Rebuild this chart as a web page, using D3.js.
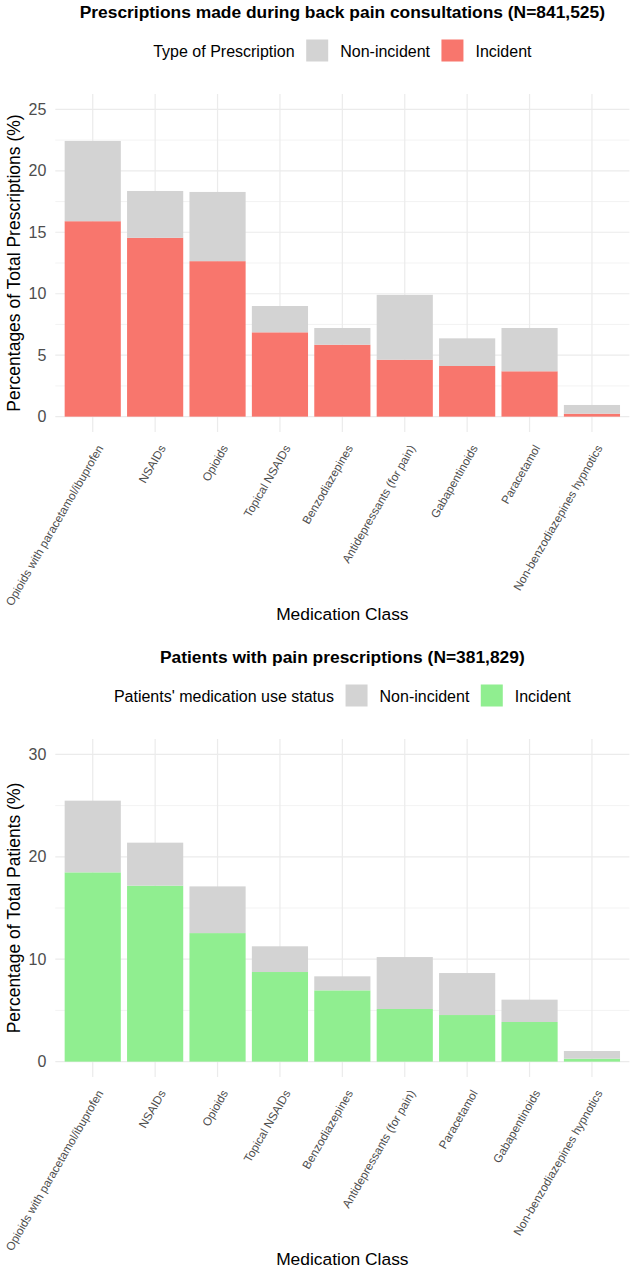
<!DOCTYPE html>
<html><head><meta charset="utf-8">
<script src="https://cdn.jsdelivr.net/npm/d3@7"></script>
<style>
body{margin:0;background:#fff}
svg{display:block}
text{font-family:"Liberation Sans",Arial,Helvetica,sans-serif}
</style>
</head><body>
<svg id="c" width="631" height="1270"></svg>
<script>
// ---- Data: chart 1 (prescriptions) ----
const categories1 = ["Opioids with paracetamol/ibuprofen","NSAIDs","Opioids","Topical NSAIDs","Benzodiazepines","Antidepressants (for pain)","Gabapentinoids","Paracetamol","Non-benzodiazepines hypnotics"];
const incident1 = [15.9, 14.55, 12.65, 6.86, 5.85, 4.63, 4.12, 3.69, 0.24];
const nonIncident1 = [6.53, 3.81, 5.63, 2.14, 1.36, 5.28, 2.25, 3.52, 0.71];
const yTicks1 = [0, 5, 10, 15, 20, 25];

// ---- Data: chart 2 (patients) ----
const categories2 = ["Opioids with paracetamol/ibuprofen","NSAIDs","Opioids","Topical NSAIDs","Benzodiazepines","Antidepressants (for pain)","Paracetamol","Gabapentinoids","Non-benzodiazepines hypnotics"];
const incident2 = [18.48, 17.18, 12.55, 8.75, 6.96, 5.14, 4.55, 3.87, 0.29];
const nonIncident2 = [7.0, 4.2, 4.56, 2.51, 1.37, 5.07, 4.1, 2.18, 0.75];
const yTicks2 = [0, 10, 20, 30];

const seriesKeys = ["Incident", "Non-incident"];

const svg = d3.select("#c");

function drawChart(o) {
  const oy = o.oy;
  const top = oy + 94, bottom = oy + 432, left = 55.3, right = 629.4;
  const cx = (left + right) / 2;
  const x = d3.scaleBand().domain(o.categories).range([left, right]).paddingInner(0.1).paddingOuter(0.15);
  const yMax = d3.max(o.ticks);
  const pad = yMax * 0.05;
  const y = d3.scaleLinear().domain([-pad, yMax + pad]).range([bottom, top]);
  const g = svg.append("g");

  // minor grid
  const minor = o.ticks.slice(0, -1).map((t, i) => (t + o.ticks[i + 1]) / 2);
  g.selectAll(".minor").data(minor).join("line")
    .attr("x1", left).attr("x2", right)
    .attr("y1", d => y(d)).attr("y2", d => y(d))
    .attr("stroke", "#EBEBEB").attr("stroke-width", 0.6);
  // major grid
  g.selectAll(".major").data(o.ticks).join("line")
    .attr("x1", left).attr("x2", right)
    .attr("y1", d => y(d)).attr("y2", d => y(d))
    .attr("stroke", "#EBEBEB").attr("stroke-width", 1.2);
  g.selectAll(".vgrid").data(o.categories).join("line")
    .attr("x1", d => x(d) + x.bandwidth() / 2).attr("x2", d => x(d) + x.bandwidth() / 2)
    .attr("y1", top).attr("y2", bottom)
    .attr("stroke", "#EBEBEB").attr("stroke-width", 1.2);

  // stacked bars
  const rows = o.categories.map((c, i) => ({cat: c, "Incident": o.incident[i], "Non-incident": o.nonIncident[i]}));
  const stacked = d3.stack().keys(seriesKeys)(rows);
  const color = {"Incident": o.incColor, "Non-incident": "#D3D3D3"};
  g.selectAll(".layer").data(stacked).join("g")
    .attr("fill", d => color[d.key])
    .selectAll("rect").data(d => d).join("rect")
    .attr("x", d => x(d.data.cat))
    .attr("width", x.bandwidth())
    .attr("y", d => y(d[1]))
    .attr("height", d => y(d[0]) - y(d[1]));

  // y axis
  const ya = g.append("g").attr("transform", `translate(${left},0)`)
    .call(d3.axisLeft(y).tickValues(o.ticks).tickSize(0).tickPadding(9));
  ya.select(".domain").remove();
  ya.selectAll("text").attr("font-size", "16px").attr("fill", "#4D4D4D")
    .attr("font-family", '"Liberation Sans",Arial,sans-serif');

  // x tick labels (rotated)
  g.selectAll(".xl").data(o.categories).join("text")
    .attr("transform", d => `translate(${x(d) + x.bandwidth() / 2 + 11},${bottom + 16}) rotate(-60)`)
    .attr("text-anchor", "end")
    .attr("font-size", "11.7px")
    .attr("fill", "#4D4D4D")
    .text(d => d);

  // axis titles
  g.append("text")
    .attr("x", cx).attr("y", bottom + 188)
    .attr("text-anchor", "middle").attr("font-size", "17.4px").attr("fill", "#000")
    .text("Medication Class");
  g.append("text")
    .attr("transform", `translate(20,${(top + bottom) / 2}) rotate(-90)`)
    .attr("text-anchor", "middle").attr("font-size", "17.5px").attr("fill", "#000")
    .text(o.yTitle);

  // plot title
  g.append("text")
    .attr("x", cx).attr("y", oy + 18)
    .attr("text-anchor", "middle").attr("font-size", "17.4px").attr("font-weight", "bold").attr("fill", "#000")
    .text(o.title);

  // legend
  const lg = g.append("g");
  const base = oy + 56.5;
  const t0 = lg.append("text").attr("y", base).attr("font-size", "16px").attr("fill", "#000").text(o.legendTitle);
  const t1 = lg.append("text").attr("y", base).attr("font-size", "16px").attr("fill", "#000").text("Non-incident");
  const t2 = lg.append("text").attr("y", base).attr("font-size", "16px").attr("fill", "#000").text("Incident");
  const w0 = t0.node().getComputedTextLength();
  const w1 = t1.node().getComputedTextLength();
  const w2 = t2.node().getComputedTextLength();
  const key = 22;
  const total = w0 + 11.6 + key + 12 + w1 + 11.4 + key + 12 + w2;
  let px = cx - total / 2;
  t0.attr("x", px); px += w0 + 11.6;
  lg.append("rect").attr("x", px).attr("y", oy + 39.5).attr("width", key).attr("height", key).attr("fill", "#D3D3D3");
  px += key + 12;
  t1.attr("x", px); px += w1 + 11.4;
  lg.append("rect").attr("x", px).attr("y", oy + 39.5).attr("width", key).attr("height", key).attr("fill", o.incColor);
  px += key + 12;
  t2.attr("x", px);
}

drawChart({
  oy: 0,
  categories: categories1, incident: incident1, nonIncident: nonIncident1, ticks: yTicks1,
  incColor: "#F8766D",
  title: "Prescriptions made during back pain consultations (N=841,525)",
  legendTitle: "Type of Prescription",
  yTitle: "Percentages of Total Prescriptions (%)"
});
drawChart({
  oy: 645,
  categories: categories2, incident: incident2, nonIncident: nonIncident2, ticks: yTicks2,
  incColor: "#90EE90",
  title: "Patients with pain prescriptions (N=381,829)",
  legendTitle: "Patients' medication use status",
  yTitle: "Percentage of Total Patients (%)"
});
</script>
</body></html>
